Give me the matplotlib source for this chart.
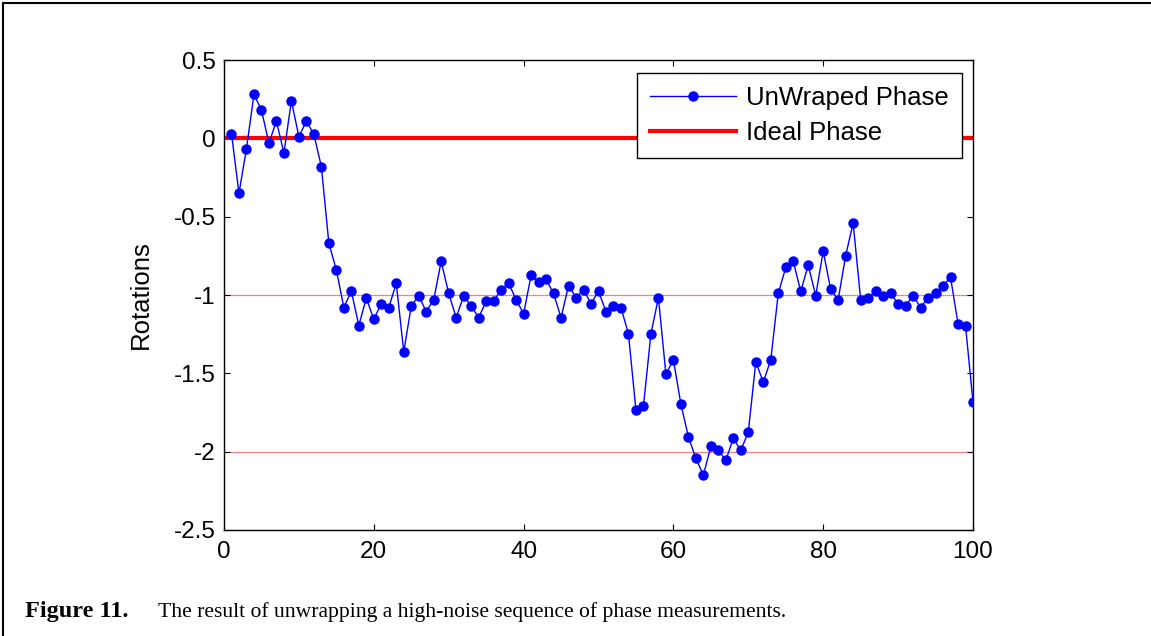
import matplotlib
matplotlib.use("Agg")
import matplotlib.pyplot as plt
from matplotlib.lines import Line2D

x_index = list(range(1, 101))
unwrapped_phase = [
    0.03, -0.35, -0.066, 0.28, 0.18, -0.03, 0.11, -0.094, 0.24, 0.01,
    0.11, 0.025, -0.18, -0.67, -0.84, -1.08, -0.975, -1.195, -1.02, -1.155,
    -1.055, -1.08, -0.925, -1.363, -1.07, -1.005, -1.106, -1.03, -0.785, -0.99,
    -1.145, -1.005, -1.07, -1.145, -1.04, -1.04, -0.965, -0.925, -1.03, -1.12,
    -0.875, -0.915, -0.90, -0.99, -1.145, -0.94, -1.017, -0.965, -1.055, -0.976,
    -1.106, -1.07, -1.08, -1.248, -1.737, -1.71, -1.248, -1.017, -1.505, -1.414,
    -1.696, -1.905, -2.043, -2.149, -1.966, -1.992, -2.055, -1.915, -1.992, -1.875,
    -1.427, -1.556, -1.414, -0.99, -0.824, -0.785, -0.977, -0.81, -1.004, -0.72,
    -0.964, -1.03, -0.748, -0.541, -1.03, -1.017, -0.977, -1.004, -0.99, -1.055,
    -1.068, -1.004, -1.08, -1.017, -0.99, -0.94, -0.887, -1.183, -1.196, -1.684,
]
ideal_phase = 0.0
reference_levels = [-1.0, -2.0]
x_ticks = [0, 20, 40, 60, 80, 100]
y_ticks = [0.5, 0, -0.5, -1, -1.5, -2, -2.5]
y_tick_labels = ["0.5", "0", "-0.5", "-1", "-1.5", "-2", "-2.5"]

plt.rcParams['font.family'] = ['Liberation Sans', 'DejaVu Sans']

fig = plt.figure(figsize=(11.51, 6.36), dpi=100)
ax = fig.add_axes([224/1151, 1-530/636, (973-224)/1151, (530-60)/636])

for lv in reference_levels:
    ax.axhline(lv, color='#ff3030', lw=0.9, ls=(0, (1, 0.6)), zorder=1)
ax.axhline(ideal_phase, color='red', lw=3.0, zorder=2)
ax.plot(x_index, unwrapped_phase, color='blue', lw=1.0, marker='o',
        markersize=6.5, markeredgecolor='blue', markerfacecolor='blue', zorder=3)

ax.set_xlim(0, 100)
ax.set_ylim(-2.5, 0.5)
ax.set_xticks(x_ticks)
ax.set_yticks(y_ticks)
ax.set_yticklabels(y_tick_labels)
ax.tick_params(direction='in', length=4, width=0.8, labelsize=17.5,
               top=True, right=True)
ax.tick_params(axis='y', pad=6)
ax.tick_params(axis='x', pad=8)
for s in ax.spines.values():
    s.set_linewidth(1.0)
ax.set_ylabel("Rotations", fontsize=18.5, labelpad=15)

handles = [Line2D([], [], color='blue', lw=1.0, marker='o', markersize=6.5),
           Line2D([], [], color='red', lw=3.0)]
leg = ax.legend(handles, ["UnWraped Phase", "Ideal Phase"], loc='upper right',
                bbox_to_anchor=(962/1151, 1-73/636), bbox_transform=fig.transFigure,
                fontsize=18.5, frameon=True, fancybox=False, framealpha=1,
                edgecolor='black', handlelength=3.35, borderpad=0.5,
                labelspacing=0.45, handletextpad=0.4, borderaxespad=0)
leg.get_frame().set_linewidth(1.0)

# figure frame (left and top)
fig.add_artist(Line2D([3/1151, 3/1151], [0, 1-3/636], color='black', lw=1.5,
                      transform=fig.transFigure))
fig.add_artist(Line2D([3/1151, 1], [1-3/636, 1-3/636], color='black', lw=1.5,
                      transform=fig.transFigure))

fig.text(25/1151, 1-612/636, "Figure 11.", fontsize=17.5, fontweight='bold',
         family=['Liberation Serif'], va='center', ha='left')
fig.text(158/1151, 1-612/636, "The result of unwrapping a high-noise sequence of phase measurements.",
         fontsize=15.6, family=['Liberation Serif'], va='center', ha='left')

fig.savefig("out.png", dpi=100)
